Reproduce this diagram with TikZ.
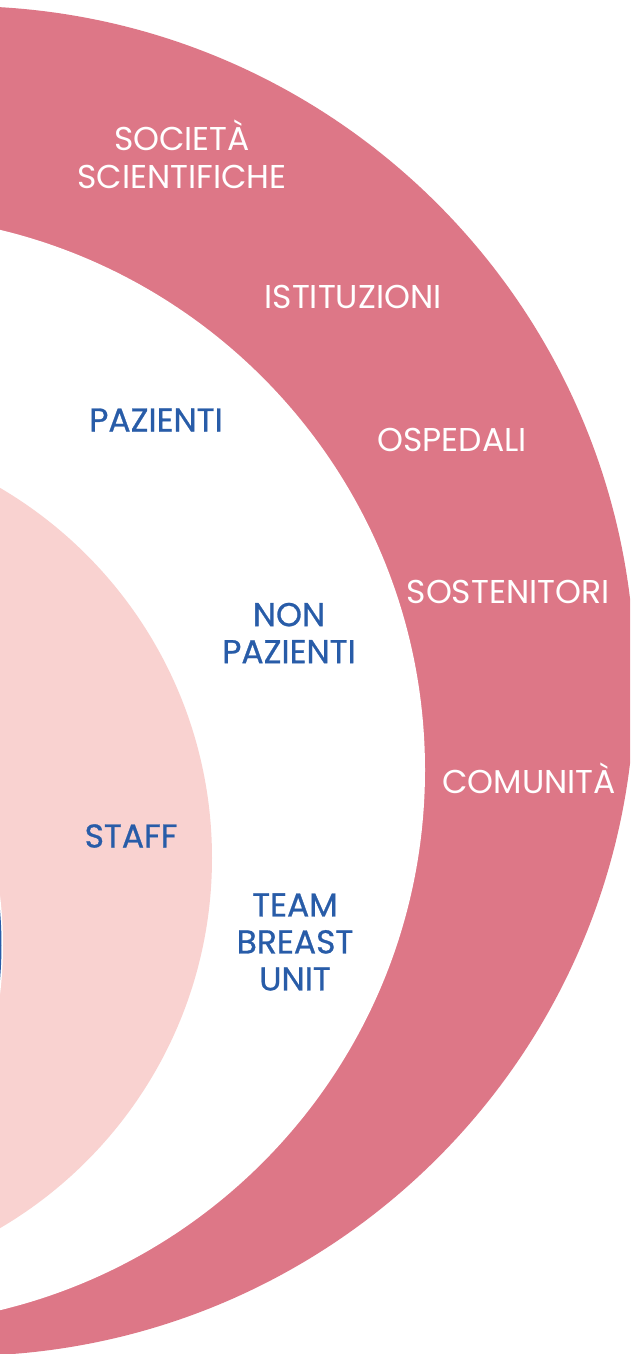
\documentclass[tikz,border=0pt]{standalone}
\usepackage{fontspec}
\setmainfont{Poppins}
\newfontfamily\medfont{Poppins}[FakeBold=0.8]
\definecolor{ringc}{HTML}{DD7787}
\definecolor{lightp}{HTML}{F9D2D0}
\definecolor{bluet}{HTML}{285CA8}
\tikzset{
  whitelab/.style={text=white, font=\fontsize{33}{38}\selectfont, align=center, inner sep=0pt},
  bluelab/.style={text=bluet, font=\medfont\fontsize{33}{37}\selectfont, align=center, inner sep=0pt},
}
\begin{document}
\begin{tikzpicture}[x=1pt,y=-1pt]
\useasboundingbox (0,0) rectangle (630,1354);
\clip (0,0) rectangle (630,1354);
\fill[white] (0,0) rectangle (630,1354);
\fill[ringc] (-40,681) circle[radius=675pt];
\fill[white] (-130.6,770) circle[radius=555.6pt];
\fill[lightp] (-217,858) circle[radius=429pt];
\draw[white, line width=6pt] (-400,945) circle[radius=400pt];
\draw[bluet, line width=3pt] (-400,945) circle[radius=400pt];
% outer ring labels
\node[whitelab] (soc) at (182,154) {SOCIETÀ\\SCIENTIFICHE};
\node[whitelab] (ist) at (353,297) {ISTITUZIONI};
\node[whitelab] (osp) at (452,440) {OSPEDALI};
\node[whitelab] (sos) at (508,592) {SOSTENITORI};
\node[whitelab] (com) at (529,778) {COMUNITÀ};
% middle labels
\node[bluelab] (paz) at (156,420) {PAZIENTI};
\node[bluelab] (nonpaz) at (289,633) {NON\\PAZIENTI};
\node[bluelab] (staff) at (131,836) {STAFF};
\node[bluelab] (team) at (295,942) {TEAM\\BREAST\\UNIT};
\end{tikzpicture}
\end{document}
